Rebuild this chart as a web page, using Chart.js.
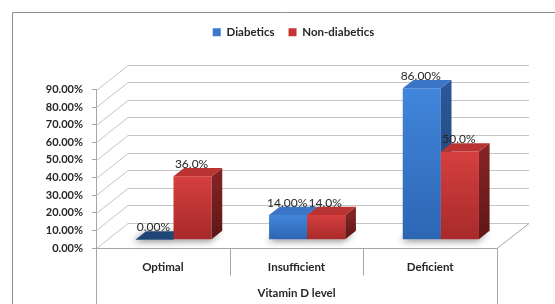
<!DOCTYPE html>
<html>
<head>
<meta charset="utf-8">
<script src="https://cdn.jsdelivr.net/npm/chart.js@4/dist/chart.umd.min.js"></script>
<style>
  html, body { margin: 0; padding: 0; background: #fff; }
  #wrap { width: 555px; height: 304px; position: relative; }
</style>
</head>
<body>
<div id="wrap"><canvas id="chart"></canvas></div>
<script>
const categories = ['Optimal', 'Insufficient', 'Deficient'];
const diabetics = [0, 0.14, 0.86];
const nonDiabetics = [0.36, 0.14, 0.50];
const seriesNames = ['Diabetics', 'Non-diabetics'];
const labelDecimals = [2, 1];
const yTicksMax = 0.9;

// depth of the floor, bars sit in the middle third
const DX = 32, DY = -25;
const palette = [
    { front: ['#4186dc', '#2d66b3'], side: ['#2a5797', '#1f4170'], top: '#3a75c6', flat: '#1d4677' },
    { front: ['#d63f3f', '#a82a2a'], side: ['#832323', '#5e1717'], top: '#b93333', flat: '#7a1f1f' }
];
const GRID = '#c4c4c4';
const EDGE = '#a6a6a6';
const TEXT = '#262626';

function fill(ctx, pts, style) {
    ctx.beginPath();
    ctx.moveTo(pts[0][0], pts[0][1]);
    for (let i = 1; i < pts.length; i++) ctx.lineTo(pts[i][0], pts[i][1]);
    ctx.closePath();
    ctx.fillStyle = style;
    ctx.fill();
}

const bars3d = {
    id: 'bars3d',
    beforeDraw(chart) {
        const ctx = chart.ctx;
        ctx.save();
        ctx.fillStyle = '#fff';
        ctx.fillRect(0, 0, chart.width, chart.height);
        ctx.strokeStyle = '#8c8c8c';
        ctx.lineWidth = 1;
        ctx.beginPath();
        ctx.moveTo(12.5, chart.height);
        ctx.lineTo(12.5, 12.5);
        ctx.lineTo(chart.width, 12.5);
        ctx.stroke();
        ctx.restore();
    },
    beforeDatasetsDraw(chart) {
        const { ctx, chartArea: a, scales: { x, y } } = chart;
        ctx.save();
        ctx.lineWidth = 1;

        // back wall and side wall
        ctx.strokeStyle = GRID;
        y.ticks.forEach(t => {
            const py = Math.round(y.getPixelForValue(t.value)) + 0.5;
            ctx.beginPath();
            ctx.moveTo(a.left + 0.5, py);
            ctx.lineTo(a.left + DX, py + DY);
            ctx.lineTo(a.right + DX, py + DY);
            ctx.stroke();
        });

        // floor edges
        const fb = Math.round(a.bottom) + 0.5;
        ctx.strokeStyle = EDGE;
        ctx.beginPath();
        ctx.moveTo(a.left, fb);
        ctx.lineTo(a.right, fb);
        ctx.lineTo(a.right + DX, fb + DY);
        ctx.stroke();

        // category dividers below the floor
        const step = x.getPixelForValue(1) - x.getPixelForValue(0);
        for (let i = 0; i <= categories.length; i++) {
            const px = Math.round(x.getPixelForValue(0) - step / 2 + i * step) + 0.5;
            const end = (i === 0 || i === categories.length) ? chart.height : fb + 27;
            ctx.beginPath();
            ctx.moveTo(px, fb);
            ctx.lineTo(px, end);
            ctx.stroke();
        }

        const ox = DX / 3, oy = DY / 3, dx = DX / 3, dy = DY / 3;
        const boxes = [];
        for (let c = 0; c < categories.length; c++) {
            chart.data.datasets.forEach((ds, d) => {
                const el = chart.getDatasetMeta(d).data[c];
                const p = el.getProps(['x', 'y', 'base', 'width'], true);
                const x0 = p.x - p.width / 2 + ox, x1 = x0 + p.width;
                const top = p.y + oy, bot = p.base + oy;
                boxes.push({ d, c, x0, x1, top, bot, value: ds.data[c] });
            });
        }

        // soft shadows on the floor
        ctx.save();
        ctx.shadowColor = 'rgba(0,0,0,0.45)';
        ctx.shadowBlur = 7;
        ctx.shadowOffsetX = -2;
        ctx.shadowOffsetY = 2;
        boxes.forEach(b => {
            fill(ctx, [[b.x0, b.bot], [b.x1, b.bot], [b.x1 + dx, b.bot + dy], [b.x0 + dx, b.bot + dy]], '#e6e6e6');
        });
        ctx.restore();

        boxes.forEach(b => {
            const col = palette[b.d];
            const h = b.bot - b.top;
            if (h < 0.5) {
                fill(ctx, [[b.x0, b.bot], [b.x1, b.bot], [b.x1 + dx, b.bot + dy], [b.x0 + dx, b.bot + dy]], col.flat);
                return;
            }
            let g = ctx.createLinearGradient(0, b.top, 0, b.bot);
            g.addColorStop(0, col.front[0]);
            g.addColorStop(1, col.front[1]);
            fill(ctx, [[b.x0, b.top], [b.x1, b.top], [b.x1, b.bot], [b.x0, b.bot]], g);
            g = ctx.createLinearGradient(0, b.top, 0, b.bot);
            g.addColorStop(0, col.side[0]);
            g.addColorStop(1, col.side[1]);
            fill(ctx, [[b.x1, b.top], [b.x1 + dx, b.top + dy], [b.x1 + dx, b.bot + dy], [b.x1, b.bot]], g);
            fill(ctx, [[b.x0, b.top], [b.x1, b.top], [b.x1 + dx, b.top + dy], [b.x0 + dx, b.top + dy]], col.top);
        });

        // value labels
        ctx.font = '12px Lato';
        ctx.fillStyle = TEXT;
        ctx.textAlign = 'center';
        ctx.textBaseline = 'middle';
        boxes.forEach(b => {
            const txt = (b.value * 100).toFixed(labelDecimals[b.d]) + '%';
            ctx.fillText(txt, (b.x0 + b.x1) / 2 - 1, b.top + dy - 4);
        });

        ctx.restore();
        return false;
    }
};

new Chart(document.getElementById('chart'), {
    type: 'bar',
    data: {
        labels: categories,
        datasets: [
            { label: seriesNames[0], data: diabetics, backgroundColor: '#3a78cf', borderWidth: 0 },
            { label: seriesNames[1], data: nonDiabetics, backgroundColor: '#c83434', borderWidth: 0 }
        ]
    },
    options: {
        responsive: true,
        maintainAspectRatio: false,
        animation: false,
        categoryPercentage: 0.57,
        barPercentage: 1.0,
        layout: { padding: { left: 32, top: 12.5, right: 0, bottom: 0 } },
        plugins: {
            legend: {
                position: 'top',
                labels: {
                    boxWidth: 8,
                    boxHeight: 8,
                    padding: 14,
                    color: TEXT,
                    font: { family: 'Lato', size: 11.5, weight: 'bold' }
                }
            },
            tooltip: { enabled: false }
        },
        scales: {
            x: {
                offset: true,
                grid: { display: false, drawTicks: false },
                border: { display: false },
                ticks: { padding: 12, color: TEXT, font: { family: 'Lato', size: 11.5, weight: 'bold' } },
                title: {
                    display: true,
                    text: 'Vitamin D level',
                    color: TEXT,
                    padding: { top: 0, bottom: 4 },
                    font: { family: 'Lato', size: 11.5, weight: 'bold' }
                },
                afterFit: s => { s.height = 56; }
            },
            xTop: {
                type: 'linear',
                position: 'top',
                display: true,
                grid: { display: false, drawTicks: false },
                border: { display: false },
                ticks: { display: false },
                afterFit: s => { s.height = 41.5; }
            },
            y: {
                min: 0,
                max: yTicksMax,
                grid: { drawOnChartArea: false, tickLength: 4, color: EDGE },
                border: { display: true, color: EDGE },
                ticks: {
                    stepSize: 0.1,
                    padding: 9,
                    color: TEXT,
                    font: { family: 'Lato', size: 11, weight: 'bold' },
                    callback: v => (v * 100).toFixed(2) + '%'
                },
                afterFit: s => { s.width = 64; }
            },
            yRight: {
                type: 'linear',
                position: 'right',
                display: true,
                grid: { display: false, drawTicks: false },
                border: { display: false },
                ticks: { display: false },
                afterFit: s => { s.width = 58; }
            }
        }
    },
    plugins: [bars3d]
});
</script>
</body>
</html>
